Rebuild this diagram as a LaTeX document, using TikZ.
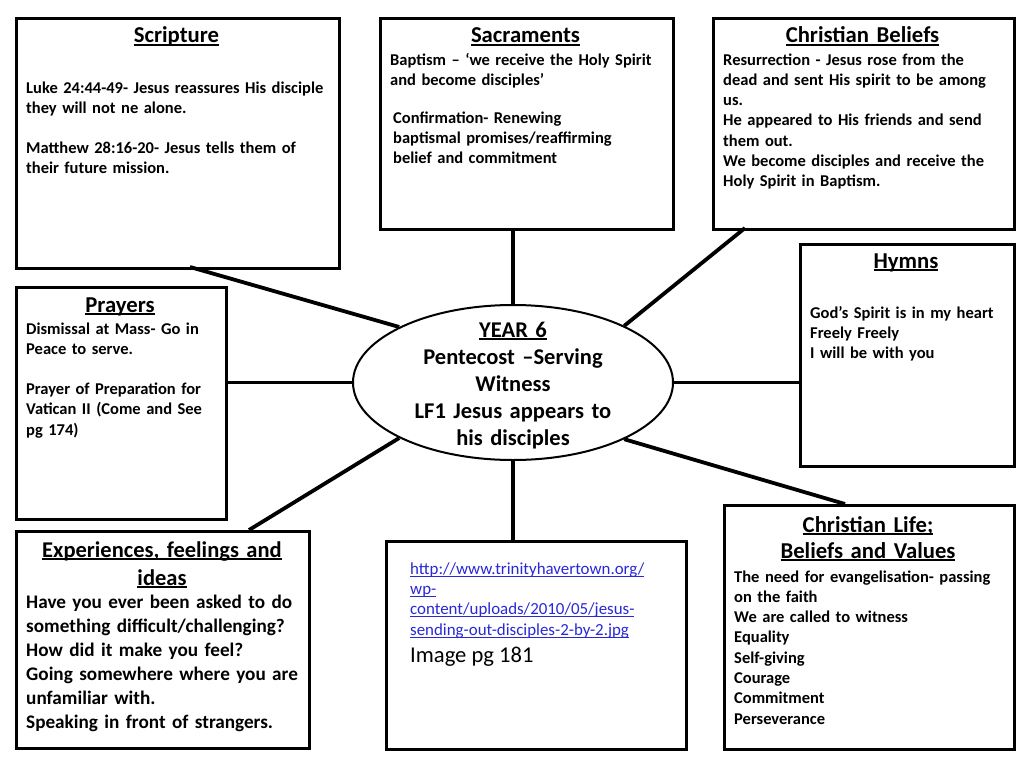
\documentclass[tikz,border=0pt]{standalone}
\usepackage{fontspec}
\usetikzlibrary{shapes.geometric}
\setmainfont{Carlito}
\definecolor{linkblue}{RGB}{40,40,215}
\newcommand\tul[1]{\leavevmode\setbox0=\hbox{#1}\rlap{\rule[-2.6pt]{\wd0}{1.5pt}}\box0}
\newcommand\lul[1]{\leavevmode\setbox0=\hbox{#1}\rlap{\rule[-2.4pt]{\wd0}{0.9pt}}\box0}
\begin{document}
\begin{tikzpicture}[x=1pt,y=-1pt,
  panel/.style={draw=black, line width=2.8pt, fill=white, inner sep=0pt, anchor=north west},
  conn/.style={draw=black, line width=3.8pt},
  ttl/.style={font=\fontsize{22.7}{27}\selectfont\bfseries, inner sep=0pt, align=center, anchor=base, text width=300pt},
  body/.style={font=\fontsize{16.5}{20.3}\selectfont\bfseries, inner sep=0pt, align=left, anchor=base west, text width=340pt},
  bigbody/.style={font=\fontsize{19.2}{24}\selectfont\bfseries, inner sep=0pt, align=left, anchor=base west, text width=340pt}]
\fill[white] (0,0) rectangle (1024,768);
\useasboundingbox (0,0) rectangle (1024,768);

% panels
\node[panel, minimum width=323pt, minimum height=250pt] (scr) at (15,17) {};
\node[panel, minimum width=293pt, minimum height=211pt] (sac) at (379,17) {};
\node[panel, minimum width=301pt, minimum height=211pt] (bel) at (712,17) {};
\node[panel, minimum width=214pt, minimum height=222pt] (hym) at (799,243) {};
\node[panel, minimum width=210pt, minimum height=232pt] (pry) at (15,286) {};
\node[panel, minimum width=293pt, minimum height=217pt] (exp) at (15,530) {};
\node[panel, minimum width=300pt, minimum height=208pt] (img) at (385,540) {};
\node[panel, minimum width=290pt, minimum height=244pt] (lif) at (723,504) {};
\node[ellipse, draw=black, line width=2pt, fill=white, minimum width=320pt, minimum height=155pt, inner sep=0pt] (ell) at (513,382.5) {};

% connectors
\coordinate (scrp) at (190,267);
\coordinate (belp) at (745,228);
\coordinate (expp) at (249,530);
\coordinate (lifp) at (845,504);
\draw[conn] (scrp) -- (ell.154);
\draw[conn] (ell.north) -- (ell.north |- sac.south);
\draw[conn] (belp) -- (ell.27.6);
\draw[conn] (ell.east) -- (ell.east -| hym.west);
\draw[conn] (ell.west) -- (ell.west -| pry.east);
\draw[conn] (expp) -- (ell.206.4);
\draw[conn] (ell.south) -- (ell.south |- img.north);
\draw[conn] (lifp) -- (ell.333.2);

% Scripture
\node[ttl] (scrt) at (176.5,43) {\tul{Scripture}};
\node[body] (scrb) at (26,93) {Luke 24:44-49- Jesus reassures His disciple\\they will not ne alone.\\[20pt]Matthew 28:16-20- Jesus tells them of\\their future mission.};

% Sacraments
\node[ttl] (sact) at (525.5,43) {\tul{Sacraments}};
\node[body] (sacb) at (390,65) {Baptism – ‘we receive the Holy Spirit\\and become disciples’\\[17.7pt]\hspace*{3pt}Confirmation- Renewing\\\hspace*{3pt}baptismal promises/reaffirming\\\hspace*{3pt}belief and commitment};

% Christian Beliefs
\node[ttl] (belt) at (862.5,43) {\tul{Christian Beliefs}};
\node[body] (belb) at (723,65) {Resurrection - Jesus rose from the\\dead and sent His spirit to be among\\us.\\He appeared to His friends and send\\them out.\\We become disciples and receive the\\Holy Spirit in Baptism.};

% Hymns
\node[ttl] (hymt) at (906,268) {\tul{Hymns}};
\node[body] (hymb) at (810,318) {God’s Spirit is in my heart\\Freely Freely\\I will be with you};

% Prayers
\node[ttl] (pryt) at (120,312) {\tul{Prayers}};
\node[body] (pryb) at (26,334) {Dismissal at Mass- Go in\\Peace to serve.\\[20pt]Prayer of Preparation for\\Vatican II (Come and See\\pg 174)};

% Centre
\node[font=\fontsize{22.5}{27}\selectfont\bfseries, inner sep=0pt, align=center, anchor=base, text width=300pt] (ctr) at (513,337) {\tul{YEAR 6}\\Pentecost –Serving\\Witness\\LF1 Jesus appears to\\his disciples};

% Experiences
\node[ttl, font=\fontsize{22.5}{28}\selectfont\bfseries] (expt) at (162,557) {\tul{Experiences, feelings and}\\\tul{ideas}};
\node[bigbody] (expb) at (26,608) {Have you ever been asked to do\\something difficult/challenging?\\How did it make you feel?\\Going somewhere where you are\\unfamiliar with.\\Speaking in front of strangers.};

% Image
\node[font=\fontsize{16.9}{20.4}\selectfont, text=linkblue, inner sep=0pt, align=left, anchor=base west, text width=300pt] (url) at (410,574) {\lul{http://www.trinityhavertown.org/}\\\lul{wp-}\\\lul{content/uploads/2010/05/jesus-}\\\lul{sending-out-disciples-2-by-2.jpg}};
\node[font=\fontsize{22.6}{24}\selectfont, inner sep=0pt, anchor=base west] (imgt) at (410,662) {Image pg 181};

% Christian Life
\node[ttl, font=\fontsize{22.7}{26}\selectfont\bfseries] (lift) at (868,532) {\tul{Christian Life;}\\\tul{Beliefs and Values}};
\node[body] (lifb) at (734,582) {The need for evangelisation- passing\\on the faith\\We are called to witness\\Equality\\Self-giving\\Courage\\Commitment\\Perseverance};
\end{tikzpicture}
\end{document}
